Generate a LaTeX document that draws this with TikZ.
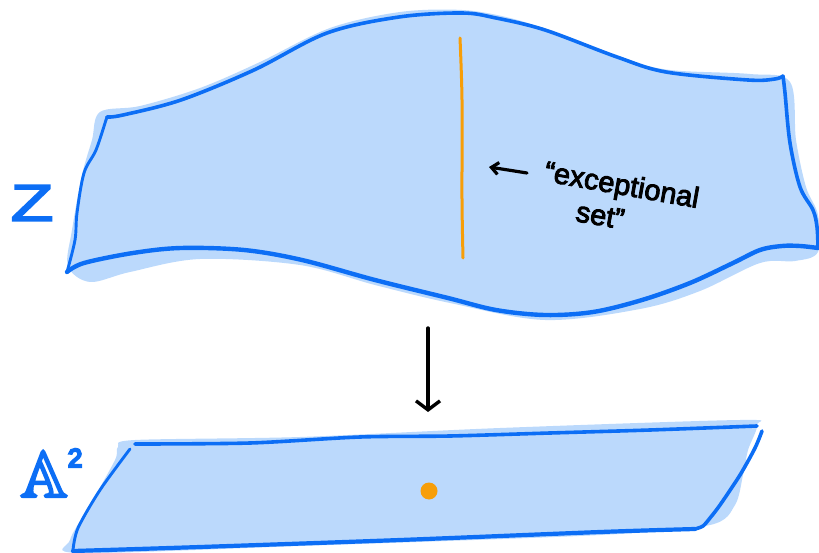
\documentclass[tikz,border=0pt]{standalone}
\usepackage{amssymb}
\usepackage{fontspec}
\setmainfont{Liberation Sans}
\usetikzlibrary{arrows.meta}
\definecolor{fillblue}{RGB}{187,217,252}
\definecolor{lineblue}{RGB}{12,110,245}
\definecolor{orng}{RGB}{247,158,8}
\newcommand{\thicktext}[2][2.2]{\special{pdf:literal direct 2 Tr #1 w}#2\special{pdf:literal direct 0 Tr}}
\tikzset{
  outline/.style={draw=lineblue, line width=3.6pt, line cap=round, line join=round},
  surf/.style={fill=fillblue, draw=none},
  note/.style={text=black, inner sep=0pt},
  lbl/.style={text=lineblue, inner sep=0pt}
}
\begin{document}
\begin{tikzpicture}[x=1pt,y=-1pt]
\useasboundingbox (0,0) rectangle (819,553);
% ---------- top surface Z ----------
\path[surf] plot[smooth cycle, tension=0.55] coordinates {
 (100,112) (140,106) (200,88) (260,62) (330,28) (400,12) (462,10) (510,18)
 (560,34) (620,58) (670,70) (750,74) (790,82) (796,140) (806,187) (818,215)
 (818,252) (795,261) (760,263) (700,291) (640,309) (545,320) (450,303)
 (375,285) (300,265) (200,259) (130,272) (90,282) (68,266) (72,230) (82,175) (92,140)};
\draw[outline] plot[smooth, tension=0.55] coordinates {
 (107,117) (123,115) (181,100) (254,70) (327,33) (399,17) (462,13) (496,18)
 (545,30) (617,57) (666,72) (748,80) (775,79) (783,76)};
\draw[outline] plot[smooth, tension=0.55] coordinates {
 (783,76) (785,93) (790,143) (800,187) (813,210) (817,227) (818,248)};
\draw[outline, line width=4.4pt] plot[smooth, tension=0.55] coordinates {
 (818,248) (800,246) (782,246) (760,250) (733,263) (690,283) (642,300)
 (593,312) (545,315) (496,310) (448,298) (375,280) (302,260) (244,250)
 (181,248) (133,253) (84,263) (67,272)};
\draw[outline, line width=2.9pt] plot[smooth, tension=0.55] coordinates {
 (67,272) (75,240) (77,213) (84,173) (96,150) (106,120) (107,117)};
% exceptional set
\draw[orng, line width=3pt, line cap=round] plot[smooth] coordinates {(460,38) (462,100) (462,200) (463,258)};
\node[note, font=\fontsize{29}{34}\selectfont, rotate=-10, align=left] (exc) at (619,201)
  {\thicktext[0.9]{“exceptional}\\\hspace*{38pt}\thicktext[0.9]{set”}};
\coordinate (arrS) at (527,173);
\coordinate (arrE) at (489,167);
\draw[black, line width=3.2pt, line cap=round, -{Straight Barb[length=7pt,width=12pt]}] (arrS) -- (arrE);
% label Z
\node[lbl, font=\fontsize{52}{52}\selectfont, xscale=1.35] (Z) at (32,203) {\thicktext[1.5]{Z}};
% ---------- map arrow ----------
\coordinate (mapS) at (428,328);
\coordinate (mapE) at (428,412);
\draw[black, line width=3.4pt, line cap=round, -{Straight Barb[length=9pt,width=24pt]}] (mapS) -- (mapE);
% ---------- bottom surface A^2 ----------
\path[surf] plot[smooth cycle, tension=0.5] coordinates {
 (118,447) (135,440) (300,437) (500,428) (740,420) (757,425) (748,450)
 (743,475) (735,505) (710,525) (600,535) (300,546) (80,553) (70,540) (90,505) (115,460)};
\draw[outline] plot[smooth, tension=0.5] coordinates {
 (135,444) (250,443) (360,437) (450,436) (550,433) (650,430) (757,426)};
\draw[outline] plot[smooth, tension=0.5] coordinates {
 (762,431) (755,448) (740,475) (720,505) (710,518) (703,526) (695,529)};
\draw[outline, line width=4.2pt] plot[smooth, tension=0.5] coordinates {
 (695,529) (600,532) (400,540) (200,547) (73,551)};
\draw[outline, line width=2.9pt] plot[smooth, tension=0.5] coordinates {
 (73,550) (78,528) (100,490) (130,449)};
\fill[orng] (429,491) circle (8.5);
\node[lbl, font=\fontsize{66}{66}\selectfont, anchor=base west] (A2) at (20,497)
  {\thicktext{$\mathbb{A}$}\raisebox{30pt}{\fontsize{26}{26}\selectfont\thicktext{2}}};
\end{tikzpicture}
\end{document}
